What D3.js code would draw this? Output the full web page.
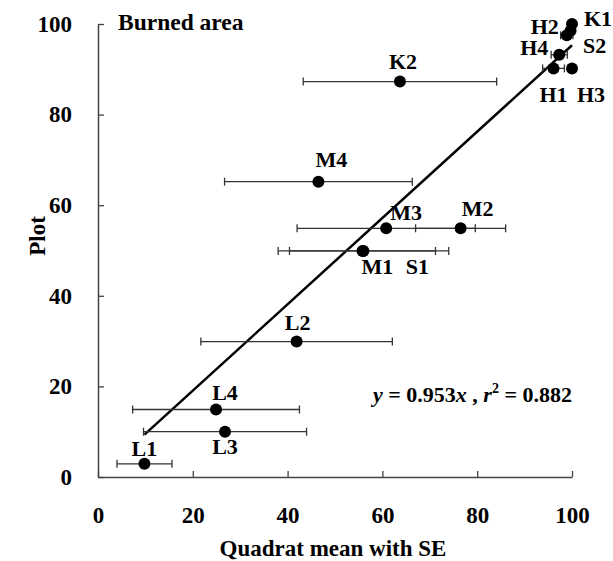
<!DOCTYPE html>
<html>
<head>
<meta charset="utf-8">
<script src="https://cdn.jsdelivr.net/npm/d3@7"></script>
<style>
  body { margin: 0; background: #fff; }
  svg text { font-family: "Liberation Serif", "DejaVu Serif", "Times New Roman", Times, serif; font-weight: bold; fill: #000; }
</style>
</head>
<body>
<div id="chart"></div>
<script>
// Plot labels, quadrat mean (x), plot value (y) and SE of the quadrat mean
const sites   = ["K1", "S2", "H2", "H4", "H1", "H3", "K2", "M4", "M3", "M2", "M1", "S1", "L2", "L4", "L3", "L1"];
const quadrat = [100, 99.7, 98.9, 97.3, 96.1, 100, 63.7, 46.5, 60.8, 76.5, 55.8, 56.0, 41.9, 24.9, 26.8, 9.8];
const plotVal = [100, 98.5, 97.5, 93.2, 90.2, 90.2, 87.3, 65.2, 54.9, 54.9, 49.9, 49.9, 29.9, 14.9, 10.0, 2.9];
const se      = [0, 0, 1.3, 1.7, 2.3, 0, 20.4, 19.8, 18.8, 9.5, 15.4, 18.0, 20.2, 17.6, 17.2, 5.8];

// regression through origin
const slope = 0.953;
const r2 = 0.882;
const fitRange = [9.8, 100];

const xTicks = [0, 20, 40, 60, 80, 100];
const yTicks = [0, 20, 40, 60, 80, 100];

// label offsets in px from each point (layout only)
const labelOffset = {
  K1: [26, -6], S2: [24, 15], H2: [-22, -9], H4: [-25, -7], H1: [0, 26], H3: [19, 26],
  K2: [3, -20], M4: [13, -22], M3: [20, -16], M2: [17, -20], M1: [15, 16], S1: [54, 16],
  L2: [1, -19], L4: [9, -17], L3: [0, 15], L1: [0, -15]
};

const width = 613;
const height = 561;
const margin = {left: 98, right: 41, top: 24, bottom: 84};

const data = sites.map((s, i) => ({name: s, x: quadrat[i], y: plotVal[i], se: se[i]}));

const svg = d3.select("#chart")
  .append("svg")
  .attr("width", width)
  .attr("height", height);

const xScale = d3.scaleLinear()
  .domain([0, 100])
  .range([margin.left, width - margin.right]);

const yScale = d3.scaleLinear()
  .domain([0, 100])
  .range([height - margin.bottom, margin.top]);

// axes, ticks pointing inward
const xAxis = svg.append("g")
  .attr("transform", `translate(0,${height - margin.bottom})`)
  .call(d3.axisBottom(xScale).tickValues(xTicks).tickSizeInner(-6).tickSizeOuter(0).tickPadding(30));

const yAxis = svg.append("g")
  .attr("transform", `translate(${margin.left},0)`)
  .call(d3.axisLeft(yScale).tickValues(yTicks).tickSizeInner(-6).tickSizeOuter(0).tickPadding(26));

[xAxis, yAxis].forEach(ax => {
  ax.attr("font-family", null);
  ax.select(".domain").attr("stroke", "#444").attr("stroke-width", 1.5);
  ax.selectAll(".tick line").attr("stroke", "#444").attr("stroke-width", 1.3);
  ax.selectAll(".tick text")
    .attr("font-size", "23px")
    .attr("fill", "#000");
});

// axis titles
svg.append("text")
  .attr("x", 333)
  .attr("y", 556)
  .attr("text-anchor", "middle")
  .attr("font-size", "23px")
  .text("Quadrat mean with SE");

svg.append("text")
  .attr("transform", `translate(45,236) rotate(-90)`)
  .attr("text-anchor", "middle")
  .attr("font-size", "23px")
  .text("Plot");

svg.append("text")
  .attr("x", 118)
  .attr("y", 30)
  .attr("font-size", "23.5px")
  .text("Burned area");

// regression line
svg.append("line")
  .attr("x1", xScale(fitRange[0]))
  .attr("y1", yScale(slope * fitRange[0]))
  .attr("x2", xScale(fitRange[1]))
  .attr("y2", yScale(slope * fitRange[1]))
  .attr("stroke", "#000")
  .attr("stroke-width", 2.5);

// horizontal SE bars
const bars = svg.selectAll(".err")
  .data(data.filter(d => d.se > 0))
  .enter()
  .append("g")
  .attr("class", "err")
  .attr("stroke", "#333")
  .attr("stroke-width", 1.3);

bars.append("line")
  .attr("x1", d => xScale(d.x - d.se))
  .attr("x2", d => xScale(d.x + d.se))
  .attr("y1", d => yScale(d.y))
  .attr("y2", d => yScale(d.y));

bars.append("line")
  .attr("x1", d => xScale(d.x - d.se))
  .attr("x2", d => xScale(d.x - d.se))
  .attr("y1", d => yScale(d.y) - 4)
  .attr("y2", d => yScale(d.y) + 4);

bars.append("line")
  .attr("x1", d => xScale(d.x + d.se))
  .attr("x2", d => xScale(d.x + d.se))
  .attr("y1", d => yScale(d.y) - 4)
  .attr("y2", d => yScale(d.y) + 4);

// points
svg.selectAll(".dot")
  .data(data)
  .enter()
  .append("circle")
  .attr("class", "dot")
  .attr("cx", d => xScale(d.x))
  .attr("cy", d => yScale(d.y))
  .attr("r", 6)
  .attr("fill", "#000");

// point labels
svg.selectAll(".lab")
  .data(data)
  .enter()
  .append("text")
  .attr("class", "lab")
  .attr("x", d => xScale(d.x) + labelOffset[d.name][0])
  .attr("y", d => yScale(d.y) + labelOffset[d.name][1])
  .attr("text-anchor", "middle")
  .attr("dominant-baseline", "central")
  .attr("font-size", "22px")
  .text(d => d.name);

// equation
const eq = svg.append("text")
  .attr("x", 373)
  .attr("y", 402)
  .attr("font-size", "22px");
eq.append("tspan").attr("font-style", "italic").text("y");
eq.append("tspan").text(" = " + slope + "");
eq.append("tspan").attr("font-style", "italic").text("x");
eq.append("tspan").text(" , ");
eq.append("tspan").attr("font-style", "italic").text("r");
eq.append("tspan").attr("font-size", "14px").attr("dy", -9).text("2");
eq.append("tspan").attr("dy", 9).text(" = " + r2);
</script>
</body>
</html>
